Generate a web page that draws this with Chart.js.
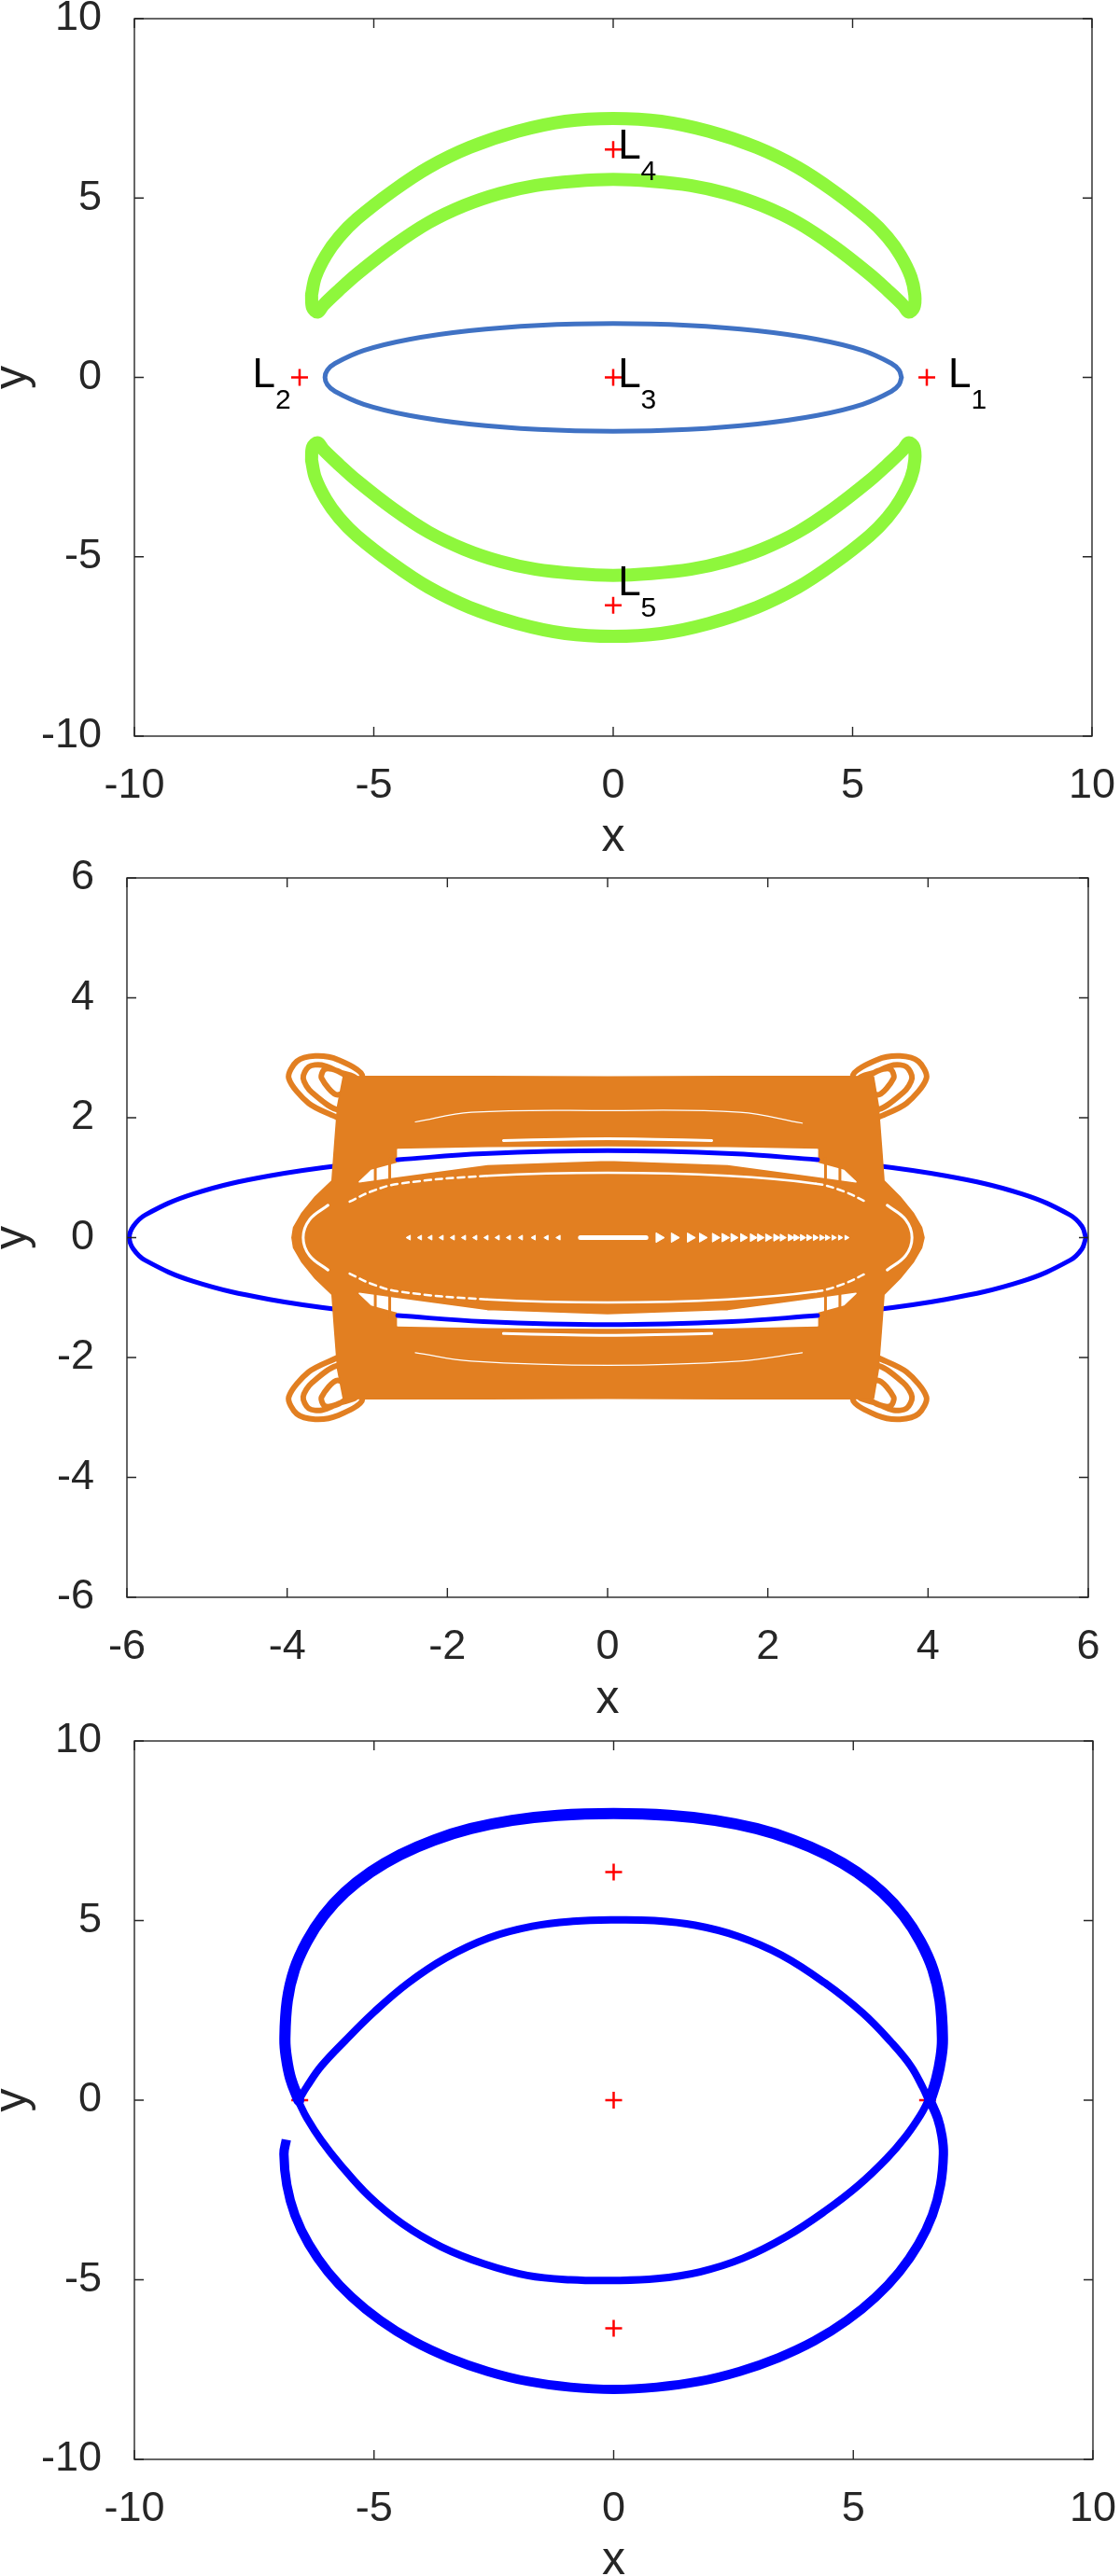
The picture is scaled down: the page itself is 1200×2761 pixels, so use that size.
<!DOCTYPE html>
<html>
<head>
<meta charset="utf-8">
<script src="https://cdn.jsdelivr.net/npm/chart.js@4.4.1/dist/chart.umd.min.js"></script>
<style>
html, body { margin: 0; padding: 0; background: #fff; overflow: hidden; }
body { width: 1200px; height: 2761px; position: relative; }
canvas { position: absolute; left: 0; }
</style>
</head>
<body>
<canvas id="orbit1" width="1200" height="923" style="top:0px"></canvas>
<canvas id="orbit2" width="1200" height="947" style="top:900px"></canvas>
<canvas id="orbit3" width="1200" height="940" style="top:1830px"></canvas>
<script>
(function orbits () {
    'use strict';

    var FONT = "'Liberation Sans', Arial, Helvetica, sans-serif";
    var AXIS_COLOR = '#262626';
    var RED = '#FF0000';
    var GREEN = '#8EF73C';
    var STEEL = '#4072C4';
    var ORANGE = '#E27F21';
    var BLUE = '#0000FF';
    var WHITE = '#FFFFFF';

    // axis ticks
    var ticksWide = [-10, -5, 0, 5, 10];
    var ticksNarrow = [-6, -4, -2, 0, 2, 4, 6];

    // Lagrange points and their labels
    var lagrangeNames = ['1', '2', '3', '4', '5'];
    var lagrangeX = [6.55, -6.55, 0, 0, 0];
    var lagrangeY = [0, 0, 0, 6.35, -6.35];
    var labelX = [7.0, -6.73, 0.1, 0.1, 0.1];
    var labelY = [0, 0, 0, 6.35, -5.8];
    var labelAlign = ['left', 'right', 'left', 'left', 'left'];

    // panel 1
    var ellipse1 = [[6.02, 0], [5.97, 0.2], [5.81, 0.39], [5.21, 0.75], [4.26, 1.06], [3.01, 1.3], [1.56, 1.45], [0, 1.5],
        [-1.56, 1.45], [-3.01, 1.3], [-4.26, 1.06], [-5.21, 0.75], [-5.81, 0.39], [-5.97, 0.2], [-6.02, 0],
        [-5.97, -0.2], [-5.81, -0.39], [-5.21, -0.75], [-4.26, -1.06], [-3.01, -1.3], [-1.56, -1.45], [0, -1.5],
        [1.56, -1.45], [3.01, -1.3], [4.26, -1.06], [5.21, -0.75], [5.81, -0.39], [5.97, -0.2], [6.02, 0]];
    var crescentTop1 = [[-6.3, 2.3], [-6.22, 2.8], [-6.0, 3.4], [-5.72, 3.92], [-5.35, 4.42], [-4.6, 5.2], [-3.86, 5.85],
        [-3.0, 6.41], [-2.0, 6.86], [-1.0, 7.14], [0, 7.22], [1.0, 7.14], [2.0, 6.86], [3.0, 6.41], [3.86, 5.85],
        [4.6, 5.2], [5.35, 4.42], [5.72, 3.92], [6.0, 3.4], [6.22, 2.8], [6.3, 2.3], [6.28, 1.95], [6.17, 1.82],
        [6.05, 2.02], [5.72, 2.44], [5.35, 2.88], [4.6, 3.66], [3.86, 4.31], [3.11, 4.79], [2.36, 5.13], [1.62, 5.35],
        [0.8, 5.47], [0, 5.52], [-0.8, 5.47], [-1.62, 5.35], [-2.36, 5.13], [-3.11, 4.79], [-3.86, 4.31], [-4.6, 3.66],
        [-5.35, 2.88], [-5.72, 2.44], [-6.05, 2.02], [-6.17, 1.82], [-6.28, 1.95], [-6.3, 2.3]];
    var crescentBottom1 = [[-6.3, -2.3], [-6.22, -2.8], [-6.0, -3.4], [-5.72, -3.92], [-5.35, -4.42], [-4.6, -5.2], [-3.86, -5.85],
        [-3.0, -6.41], [-2.0, -6.86], [-1.0, -7.14], [0, -7.22], [1.0, -7.14], [2.0, -6.86], [3.0, -6.41], [3.86, -5.85],
        [4.6, -5.2], [5.35, -4.42], [5.72, -3.92], [6.0, -3.4], [6.22, -2.8], [6.3, -2.3], [6.28, -1.95], [6.17, -1.82],
        [6.05, -2.02], [5.72, -2.44], [5.35, -2.88], [4.6, -3.66], [3.86, -4.31], [3.11, -4.79], [2.36, -5.13], [1.62, -5.35],
        [0.8, -5.47], [0, -5.52], [-0.8, -5.47], [-1.62, -5.35], [-2.36, -5.13], [-3.11, -4.79], [-3.86, -4.31], [-4.6, -3.66],
        [-5.35, -2.88], [-5.72, -2.44], [-6.05, -2.02], [-6.17, -1.82], [-6.28, -1.95], [-6.3, -2.3]];

    // panel 2
    var ellipse2 = [[5.97, 0], [5.92, 0.19], [5.77, 0.38], [5.17, 0.73], [4.22, 1.03], [2.99, 1.26], [2.62, 1.3], [1.55, 1.4], [0, 1.45],
        [-1.55, 1.4], [-2.62, 1.3], [-2.99, 1.26], [-4.22, 1.03], [-5.17, 0.73], [-5.77, 0.38], [-5.92, 0.19], [-5.97, 0],
        [-5.92, -0.19], [-5.77, -0.38], [-5.17, -0.73], [-4.22, -1.03], [-2.99, -1.26], [-2.62, -1.3], [-1.55, -1.4], [0, -1.45],
        [1.55, -1.4], [2.62, -1.3], [2.99, -1.26], [4.22, -1.03], [5.17, -0.73], [5.77, -0.38], [5.92, -0.19], [5.97, 0]];
    var pillow2 = [[-3.3, 2.68], [-3.0, 2.69], [-1.5, 2.69], [0, 2.68], [1.5, 2.69], [3.0, 2.69], [3.32, 2.68], [3.38, 2.2],
        [3.42, 1.5], [3.45, 0.95], [3.65, 0.68], [3.82, 0.4], [3.92, 0.17], [3.95, 0], [3.92, -0.17], [3.82, -0.4], [3.65, -0.68],
        [3.45, -0.95], [3.42, -1.5], [3.38, -2.2], [3.32, -2.68], [3.0, -2.69], [1.5, -2.69], [0, -2.68], [-1.5, -2.69],
        [-3.0, -2.69], [-3.3, -2.68], [-3.37, -2.2], [-3.41, -1.5], [-3.44, -0.95], [-3.65, -0.68], [-3.82, -0.4],
        [-3.92, -0.17], [-3.94, 0], [-3.92, 0.17], [-3.82, 0.4], [-3.65, 0.68], [-3.44, 0.95], [-3.41, 1.5], [-3.37, 2.2], [-3.3, 2.68]];
    var loopTL2 = [[-3.37, 2.0], [-3.73, 2.24], [-3.98, 2.66], [-3.88, 2.94], [-3.65, 3.03], [-3.37, 2.97], [-3.06, 2.69],
        [-3.34, 2.14], [-3.69, 2.42], [-3.8, 2.66], [-3.73, 2.85], [-3.57, 2.88], [-3.34, 2.76], [-3.14, 2.65],
        [-3.37, 2.38], [-3.57, 2.66], [-3.53, 2.81], [-3.37, 2.78], [-3.22, 2.66]];
    var loopTR2 = [[3.37, 2.0], [3.73, 2.24], [3.98, 2.66], [3.88, 2.94], [3.65, 3.03], [3.37, 2.97], [3.06, 2.69],
        [3.34, 2.14], [3.69, 2.42], [3.8, 2.66], [3.73, 2.85], [3.57, 2.88], [3.34, 2.76], [3.14, 2.65],
        [3.37, 2.38], [3.57, 2.66], [3.53, 2.81], [3.37, 2.78], [3.22, 2.66]];
    var loopBL2 = [[-3.37, -2.0], [-3.73, -2.24], [-3.98, -2.66], [-3.88, -2.94], [-3.65, -3.03], [-3.37, -2.97], [-3.06, -2.69],
        [-3.34, -2.14], [-3.69, -2.42], [-3.8, -2.66], [-3.73, -2.85], [-3.57, -2.88], [-3.34, -2.76], [-3.14, -2.65],
        [-3.37, -2.38], [-3.57, -2.66], [-3.53, -2.81], [-3.37, -2.78], [-3.22, -2.66]];
    var loopBR2 = [[3.37, -2.0], [3.73, -2.24], [3.98, -2.66], [3.88, -2.94], [3.65, -3.03], [3.37, -2.97], [3.06, -2.69],
        [3.34, -2.14], [3.69, -2.42], [3.8, -2.66], [3.73, -2.85], [3.57, -2.88], [3.34, -2.76], [3.14, -2.65],
        [3.37, -2.38], [3.57, -2.66], [3.53, -2.81], [3.37, -2.78], [3.22, -2.66]];
    var faintTop2 = [[-2.4, 1.93], [-1.7, 2.09], [0, 2.12], [1.65, 2.09], [2.43, 1.91]];
    var faintBottom2 = [[-2.4, -1.92], [-1.7, -2.06], [0, -2.13], [1.65, -2.06], [2.43, -1.92]];
    var slitTop2 = [[-1.3, 1.62], [-0.6, 1.64], [0, 1.65], [0.6, 1.64], [1.3, 1.62]];
    var slitBottom2 = [[-1.3, -1.6], [-0.6, -1.62], [0, -1.63], [0.6, -1.62], [1.3, -1.6]];
    var holeTop2 = [[-2.62, 1.47], [-1.5, 1.5], [0, 1.51], [1.5, 1.5], [2.62, 1.47], [2.62, 1.24], [2.95, 1.12], [3.1, 0.93],
        [2.62, 1.02], [1.5, 1.22], [0, 1.29], [-1.5, 1.22], [-2.62, 1.02], [-3.1, 0.93], [-2.95, 1.12], [-2.62, 1.24], [-2.62, 1.47]];
    var holeBottom2 = [[-2.62, -1.47], [-1.5, -1.5], [0, -1.51], [1.5, -1.5], [2.62, -1.47], [2.62, -1.24], [2.95, -1.12], [3.1, -0.93],
        [2.62, -1.02], [1.5, -1.22], [0, -1.29], [-1.5, -1.22], [-2.62, -1.02], [-3.1, -0.93], [-2.95, -1.12], [-2.62, -1.24], [-2.62, -1.47]];
    var bars2 = [[-2.72, 0.98], [-2.72, 1.34], [NaN, NaN], [-2.9, 0.94], [-2.9, 1.16], [NaN, NaN],
        [2.72, 0.98], [2.72, 1.34], [NaN, NaN], [2.9, 0.94], [2.9, 1.16], [NaN, NaN],
        [-2.72, -0.98], [-2.72, -1.34], [NaN, NaN], [-2.9, -0.94], [-2.9, -1.16], [NaN, NaN],
        [2.72, -0.98], [2.72, -1.34], [NaN, NaN], [2.9, -0.94], [2.9, -1.16]];
    var dashTop2 = [[-3.22, 0.6], [-2.95, 0.77], [-2.6, 0.9], [-1.5, 1.03], [0, 1.08], [1.5, 1.03], [2.6, 0.9], [2.95, 0.77], [3.22, 0.6]];
    var dashBottom2 = [[-3.22, -0.6], [-2.95, -0.77], [-2.6, -0.9], [-1.5, -1.03], [0, -1.08], [1.5, -1.03], [2.6, -0.9], [2.95, -0.77], [3.22, -0.6]];
    var sideLeft2 = [[-3.49, 0.54], [-3.72, 0.3], [-3.8, 0], [-3.72, -0.3], [-3.49, -0.54]];
    var sideRight2 = [[3.49, 0.54], [3.72, 0.3], [3.8, 0], [3.72, -0.3], [3.49, -0.54]];
    var core2 = [[-0.34, 0], [0.05, 0], [0.48, 0]];
    var chevronX2 = [0.64, 0.83, 1.03, 1.18, 1.34, 1.46, 1.57, 1.69, 1.81, 1.9, 2.0, 2.1, 2.18, 2.28, 2.35, 2.43,
        2.51, 2.59, 2.67, 2.74, 2.82, 2.9, 2.98];
    var markX2 = [-2.48, -2.34, -2.21, -2.07, -1.93, -1.79, -1.65, -1.51, -1.37, -1.23, -1.08, -0.92, -0.76, -0.61];

    // panel 3
    var outerLow3 = [[-6.83, -1.1], [-6.88, -1.5], [-6.82, -2.36], [-6.65, -3.2], [-6.36, -4.01], [-5.96, -4.78], [-5.46, -5.49],
        [-4.87, -6.13], [-4.19, -6.7], [-3.44, -7.17], [-2.63, -7.55], [-1.78, -7.83], [-0.9, -7.99], [0, -8.05],
        [0.9, -7.99], [1.78, -7.83], [2.63, -7.55], [3.44, -7.17], [4.19, -6.7], [4.87, -6.13], [5.46, -5.49],
        [5.96, -4.78], [6.36, -4.01], [6.65, -3.2], [6.82, -2.36], [6.88, -1.5], [6.85, -1.0], [6.76, -0.5], [6.6, 0]];
    var innerUp3 = [[6.57, 0], [6.45, 0.35], [6.2, 0.95], [5.8, 1.6], [5.2, 2.42], [4.4, 3.27], [3.5, 4.04], [2.6, 4.56],
        [1.7, 4.87], [0.85, 5.0], [0, 5.02], [-0.85, 4.98], [-1.7, 4.84], [-2.6, 4.52], [-3.5, 3.96], [-4.3, 3.25],
        [-5.0, 2.45], [-5.6, 1.66], [-6.1, 0.95], [-6.4, 0.38], [-6.57, 0]];
    var innerLow3 = [[-6.57, -0.05], [-6.4, -0.5], [-6.1, -1.12], [-5.7, -1.8], [-5.1, -2.68], [-4.4, -3.45], [-3.6, -4.08],
        [-2.7, -4.56], [-1.8, -4.88], [-0.9, -5.0], [0, -5.02], [0.9, -4.97], [1.8, -4.78], [2.7, -4.4], [3.6, -3.8],
        [4.4, -3.1], [5.1, -2.38], [5.7, -1.62], [6.1, -1.0], [6.4, -0.42], [6.57, 0]];
    var outerUp3 = [[6.6, 0], [6.74, 0.6], [6.83, 1.2], [6.86, 1.7], [6.81, 2.77], [6.66, 3.64], [6.4, 4.42], [6.05, 5.14],
        [5.61, 5.78], [5.07, 6.35], [4.46, 6.83], [3.75, 7.24], [2.98, 7.56], [2.12, 7.79], [1.17, 7.93], [0, 7.98],
        [-1.17, 7.93], [-2.12, 7.79], [-2.98, 7.56], [-3.75, 7.24], [-4.46, 6.83], [-5.07, 6.35], [-5.61, 5.78],
        [-6.05, 5.14], [-6.4, 4.42], [-6.66, 3.64], [-6.81, 2.77], [-6.86, 1.7], [-6.83, 1.2], [-6.74, 0.6], [-6.57, 0]];

    function toPoints(list) {
        return list.map(function (p) { return {x: p[0], y: p[1]}; });
    }

    function curve(list, color, width, extra) {
        var ds = {
            data: toPoints(list),
            showLine: true,
            borderColor: color,
            backgroundColor: color,
            borderWidth: width,
            pointRadius: 0,
            pointHoverRadius: 0,
            tension: 0.4,
            fill: false,
            borderCapStyle: 'round',
            borderJoinStyle: 'round'
        };
        return Object.assign(ds, extra || {});
    }

    function shape(list, color) {
        return curve(list, color, 1.5, {fill: 'shape', tension: 0});
    }

    function markers(xs, ys) {
        return {
            data: xs.map(function (x, i) { return {x: x, y: ys[i]}; }),
            showLine: false,
            pointStyle: 'cross',
            pointRadius: 9,
            pointHoverRadius: 9,
            pointBorderWidth: 2.5,
            borderColor: RED,
            backgroundColor: RED
        };
    }

    function dots(xs, rotation, radius) {
        return {
            data: xs.map(function (x) { return {x: x, y: 0}; }),
            showLine: false,
            pointStyle: 'triangle',
            rotation: rotation,
            pointRadius: radius,
            pointHoverRadius: radius,
            pointBorderWidth: 1,
            borderColor: WHITE,
            backgroundColor: WHITE
        };
    }

    var framePlugin = {
        id: 'frame',
        afterDatasetsDraw: function (chart) {
            var ctx = chart.ctx;
            var a = chart.chartArea;
            var xs = chart.scales.x;
            var ys = chart.scales.y;
            var len = 10;
            ctx.save();
            ctx.strokeStyle = AXIS_COLOR;
            ctx.lineWidth = 1.4;
            ctx.strokeRect(a.left, a.top, a.right - a.left, a.bottom - a.top);
            ctx.beginPath();
            xs.ticks.forEach(function (t) {
                var px = xs.getPixelForValue(t.value);
                ctx.moveTo(px, a.bottom); ctx.lineTo(px, a.bottom - len);
                ctx.moveTo(px, a.top); ctx.lineTo(px, a.top + len);
            });
            ys.ticks.forEach(function (t) {
                var py = ys.getPixelForValue(t.value);
                ctx.moveTo(a.left, py); ctx.lineTo(a.left + len, py);
                ctx.moveTo(a.right, py); ctx.lineTo(a.right - len, py);
            });
            ctx.stroke();
            ctx.restore();
        }
    };

    var lagrangeLabels = {
        id: 'lagrangeLabels',
        afterDatasetsDraw: function (chart) {
            var ctx = chart.ctx;
            var xs = chart.scales.x;
            var ys = chart.scales.y;
            ctx.save();
            ctx.fillStyle = '#000';
            ctx.textAlign = 'left';
            ctx.textBaseline = 'alphabetic';
            lagrangeNames.forEach(function (name, i) {
                var px = xs.getPixelForValue(labelX[i]);
                var py = ys.getPixelForValue(labelY[i]);
                ctx.font = '44px ' + FONT;
                var wMain = ctx.measureText('L').width;
                ctx.font = '30px ' + FONT;
                var wSub = ctx.measureText(name).width;
                var left = labelAlign[i] === 'right' ? px - wMain - wSub : px;
                ctx.font = '44px ' + FONT;
                ctx.fillText('L', left, py + 10);
                ctx.font = '30px ' + FONT;
                ctx.fillText(name, left + wMain, py + 33);
            });
            ctx.restore();
        }
    };

    function axis(name, range, ticks, fit) {
        var vertical = name === 'y';
        return {
            type: 'linear',
            min: range[0],
            max: range[1],
            afterBuildTicks: function (scale) {
                scale.ticks = ticks.map(function (v) { return {value: v}; });
            },
            afterFit: fit,
            grid: {display: false},
            border: {display: false},
            ticks: {
                autoSkip: false,
                maxRotation: 0,
                minRotation: 0,
                padding: vertical ? 27 : 23,
                color: AXIS_COLOR,
                font: {family: FONT, size: 45, lineHeight: 1}
            },
            title: {
                display: true,
                text: name,
                color: AXIS_COLOR,
                padding: 0,
                font: {family: FONT, size: 50, lineHeight: vertical ? '28px' : '50px'}
            }
        };
    }

    function drawPanel(id, box, range, ticks, layers, extraPlugins) {
        var canvas = document.getElementById(id);
        var offset = parseFloat(canvas.style.top);
        var n = layers.length;
        layers.forEach(function (ds, i) { ds.order = n - i; });
        return new Chart(canvas.getContext('2d'), {
            type: 'line',
            data: {datasets: layers},
            options: {
                responsive: false,
                animation: false,
                devicePixelRatio: 1,
                events: [],
                spanGaps: false,
                layout: {padding: {left: 0, right: canvas.width - box.right, top: box.top - offset, bottom: 0}},
                plugins: {legend: {display: false}, tooltip: {enabled: false}},
                scales: {
                    x: axis('x', range, ticks, function (s) {
                        s.height = canvas.height - (box.bottom - offset);
                        s.paddingLeft = 0;
                        s.paddingRight = 0;
                    }),
                    y: axis('y', range, ticks, function (s) {
                        s.width = box.left;
                        s.paddingTop = 0;
                        s.paddingBottom = 0;
                    })
                }
            },
            plugins: [framePlugin].concat(extraPlugins || [])
        });
    }

    drawPanel('orbit1', {left: 144, right: 1170, top: 20, bottom: 789}, [-10, 10], ticksWide, [
        curve(crescentTop1, GREEN, 14, {tension: 0.35}),
        curve(crescentBottom1, GREEN, 14, {tension: 0.35}),
        curve(ellipse1, STEEL, 5),
        markers(lagrangeX, lagrangeY)
    ], [lagrangeLabels]);

    drawPanel('orbit2', {left: 136, right: 1166, top: 941, bottom: 1712}, [-6, 6], ticksNarrow, [
        curve(ellipse2, BLUE, 5),
        curve(loopTL2, ORANGE, 6, {tension: 0.3}),
        curve(loopTR2, ORANGE, 6, {tension: 0.3}),
        curve(loopBL2, ORANGE, 6, {tension: 0.3}),
        curve(loopBR2, ORANGE, 6, {tension: 0.3}),
        shape(pillow2, ORANGE),
        curve(faintTop2, WHITE, 1.2),
        curve(faintBottom2, WHITE, 1.2),
        curve(slitTop2, WHITE, 3),
        curve(slitBottom2, WHITE, 3),
        shape(holeTop2, WHITE),
        shape(holeBottom2, WHITE),
        curve(bars2, ORANGE, 3, {tension: 0, borderCapStyle: 'butt'}),
        curve(dashTop2, WHITE, 2.5, {segment: {borderDash: function (c) { return Math.abs(c.p0.parsed.x) > 2.55 ? [7, 5] : undefined; }}}),
        curve(dashBottom2, WHITE, 2.5, {segment: {borderDash: function (c) { return Math.abs(c.p0.parsed.x) > 2.55 ? [7, 5] : undefined; }}}),
        curve(sideLeft2, WHITE, 3),
        curve(sideRight2, WHITE, 3),
        curve(core2, WHITE, 5),
        dots(chevronX2, 90, function (c) { return 6 - c.dataIndex * 0.14; }),
        dots(markX2, -90, 3),
        curve(ellipse2.slice(6, 11), BLUE, 5),
        curve(ellipse2.slice(22, 27), BLUE, 5)
    ]);

    drawPanel('orbit3', {left: 144, right: 1171, top: 1866, bottom: 2636}, [-10, 10], ticksWide, [
        markers(lagrangeX, lagrangeY),
        curve(outerLow3, BLUE, 10, {borderCapStyle: 'butt'}),
        curve(innerUp3, BLUE, 8),
        curve(innerLow3, BLUE, 8),
        curve(outerUp3, BLUE, 12)
    ]);
}());
</script>
</body>
</html>
